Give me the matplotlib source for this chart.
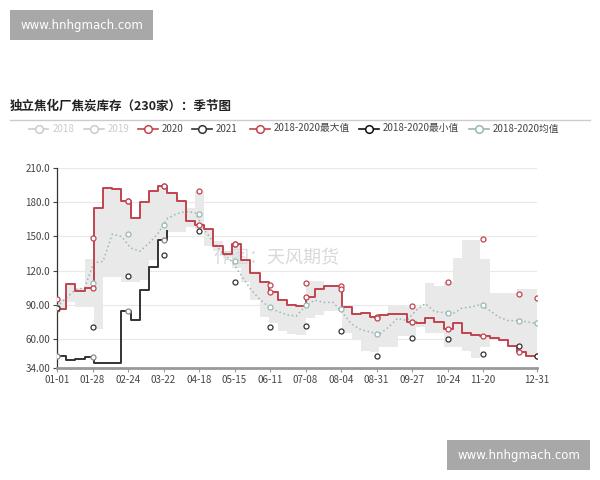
import numpy as np
import matplotlib
matplotlib.use("Agg")
import matplotlib.pyplot as plt
from matplotlib.lines import Line2D
from matplotlib.patches import Rectangle

plt.rcParams['font.family'] = ['Noto Sans CJK SC', 'DejaVu Sans']

# ---------------- data ----------------
title = "独立焦化厂焦炭库存（230家）：季节图"
legend_labels = ["2018", "2019", "2020", "2021", "2018-2020最大值", "2018-2020最小值", "2018-2020均值"]

week_days = list(range(0, 365, 7))  # 53 weekly points (day of year, 0 = 01-01)

s2020 = [86, 108, 102, 105, 175, 193, 192, 181, 166, 180, 190, 194, 188, 181, 164, 160, 157, 142,
         135, 143, 129, 118, 110, 101, 94, 90, 89, 97, 104, 106, 106, 88, 82, 83, 79, 81, 82, 82,
         75, 73.5, 78.5, 75, 69, 73.5, 65, 63, 62.5, 61, 59, 54, 48.5, 45, 45]

s2021 = [44.5, 41.5, 42, 44, 39, 39, 39, 84, 76.5, 103, 123, 147, 155]

band_hi = [95, 109, 105, 130, 175, 193, 192, 181, 166, 180, 190, 194, 188, 181, 175, 190, 157, 146,
           136, 143, 129, 118, 110, 101, 94, 90, 90, 111, 111, 106, 106, 88, 82, 83, 80, 81, 90, 90,
           88, 88, 109, 106, 110, 131, 147, 147, 130, 100, 100, 100, 104, 104, 104]

band_lo = [85, 92, 88, 88, 69, 114, 114, 110, 110, 112, 129, 147, 154, 154, 158, 157, 142, 137,
           131, 122, 110, 94, 79, 74, 67, 64, 63, 78, 81, 84, 84, 65, 60, 49, 48, 53, 53, 62,
           62, 70, 65, 65, 53, 53, 49, 43, 53, 61, 59, 54, 48.5, 45, 45]

mean_vals = [88, 96, 103, 105, 127, 128, 152, 150, 140, 137, 144, 153, 166, 170, 172, 171, 156, 145,
             135, 128, 116, 104, 95, 88, 84, 81, 80, 89, 94, 92, 92, 83, 73, 68, 66, 64, 70, 78,
             76, 85, 91, 84, 83, 82, 87, 88, 90, 85, 79, 76, 76, 75, 73.5]

marker_days = [0, 27, 54, 81, 108, 135, 162, 189, 216, 243, 270, 297, 324, 351, 365]
max_marks = [95, 149, 181.5, 194, 190, 143, 107, 109, 104, 78.5, 89, 110, 148, 99.5, 95.5]
min_marks = [87, 70.5, 115.5, 134, 155, 110, 70.5, 71.5, 67, 45, 61, 59.5, 46.5, 54, 45]
mean_marks = [88, 109, 152, 160, 170, 128, 88, 90, 86, 64, 75, 82.5, 90, 76, 73.5]

xtick_days = [0, 27, 54, 81, 108, 135, 162, 189, 216, 243, 270, 297, 324, 365]
xtick_labels = ["01-01", "01-28", "02-24", "03-22", "04-18", "05-15", "06-11", "07-08",
                "08-04", "08-31", "09-27", "10-24", "11-20", "12-31"]
ytick_vals = [34, 60, 90, 120, 150, 180, 210]
ytick_labels = ["34.00", "60.00", "90.00", "120.0", "150.0", "180.0", "210.0"]

# ---------------- style ----------------
RED = '#c0444f'
DARK = '#333333'
TEAL = '#98b8b4'
BAND = '#e9e9e9'
LIGHT = '#cccccc'

W, H = 600, 480
fig = plt.figure(figsize=(6, 4.8), dpi=100)
fig.patch.set_facecolor('white')

def fx(px):
    return px / W

def fy(py):
    return 1 - py / H

ax = fig.add_axes([fx(57), fy(368.3), fx(537) - fx(57), fy(168.3) - fy(368.3)])

wd = np.array(week_days, dtype=float)
x_full = np.append(wd, 365)

def ext(v):
    v = np.asarray(v, dtype=float)
    return np.append(v, v[-1])

MS = 3.6
MEW = 0.9

# band
ax.fill_between(x_full, ext(band_lo), ext(band_hi), step='post', color=BAND, lw=0, zorder=1)

# mean dotted line
ax.plot(x_full, ext(mean_vals), color=TEAL, lw=1.1, ls=(0, (1.0, 1.8)), zorder=3)
ax.plot(marker_days, mean_marks, ls='none', marker='o', ms=MS, mfc='white', mec=TEAL, mew=MEW, zorder=6)

# 2020 step line
ax.step(x_full, ext(s2020), where='post', color=RED, lw=1.4, zorder=4)
idx = np.searchsorted(wd, marker_days, side='right') - 1
v2020 = np.asarray(s2020)[idx]
ax.plot(marker_days, v2020, ls='none', marker='o', ms=MS, mfc='white', mec=RED, mew=MEW, zorder=6)

# 2021 step line
d21 = np.array(week_days[:len(s2021)], dtype=float)
ax.step(d21, s2021, where='post', color=DARK, lw=1.4, zorder=4)
m21 = [d for d in marker_days if d <= d21[-1]]
i21 = np.searchsorted(d21, m21, side='right') - 1
ax.plot(m21, np.asarray(s2021)[i21], ls='none', marker='o', ms=MS, mfc='white', mec='#888888', mew=MEW, zorder=6)

# max / min markers
ax.plot(marker_days, max_marks, ls='none', marker='o', ms=MS, mfc='white', mec=RED, mew=MEW, zorder=7)
ax.plot(marker_days, min_marks, ls='none', marker='o', ms=MS, mfc='white', mec=DARK, mew=MEW, zorder=7)

ax.set_xlim(0, 365)
ax.set_ylim(34, 210)
ax.set_yticks(ytick_vals)
ax.set_yticklabels(ytick_labels)
ax.set_xticks(xtick_days)
ax.set_xticklabels(xtick_labels)
ax.tick_params(axis='both', labelsize=7, colors='#444444', length=3, width=0.8)
ax.tick_params(axis='x', color='#999999', pad=2)
ax.tick_params(axis='y', pad=2)
ax.yaxis.grid(True, color='#e8e8e8', lw=0.8, zorder=0)
ax.set_axisbelow(True)
for s in ['top', 'right']:
    ax.spines[s].set_visible(False)
ax.spines['left'].set_color('#333333')
ax.spines['left'].set_linewidth(0.9)
ax.spines['bottom'].set_color('#999999')
ax.spines['bottom'].set_linewidth(2)

# watermark
ax.text((276 - 57) / 480, 0.55, "作图：天风期货", transform=ax.transAxes, fontsize=13, color='#d9d9d9',
        ha='center', va='center', zorder=2)

# title
fig.text(fx(10), fy(106), title, fontsize=9, fontweight='bold', color='#222222', ha='left', va='center')
fig.add_artist(Line2D([fx(10), fx(590)], [fy(120), fy(120)], color='#cccccc', lw=1))

# legend
leg_icon_x = [38.5, 94, 148, 202, 260, 369, 479]
leg_colors = [LIGHT, LIGHT, RED, DARK, RED, '#111111', TEAL]
leg_text_colors = [LIGHT, LIGHT, '#444444', '#444444', '#444444', '#444444', '#444444']
ly = 128.5
for cx, lab, c, tc in zip(leg_icon_x, legend_labels, leg_colors, leg_text_colors):
    fig.add_artist(Line2D([fx(cx - 10), fx(cx + 10)], [fy(ly), fy(ly)], color=c, lw=1.2))
    fig.add_artist(Line2D([fx(cx)], [fy(ly)], marker='o', ms=5.5, mfc='white', mec=c, mew=1.1, ls='none'))
    fig.text(fx(cx + 14), fy(ly), lab, fontsize=7, color=tc, ha='left', va='center')

# site boxes
for (x0, y0) in [(10, 10), (447, 440)]:
    fig.add_artist(Rectangle((fx(x0), fy(y0 + 30)), fx(143), 30 / H, transform=fig.transFigure,
                             facecolor='#a8a8a8', edgecolor='none'))
    fig.text(fx(x0 + 71.5), fy(y0 + 15), "www.hnhgmach.com", fontsize=8.5, color='white',
             ha='center', va='center', family='DejaVu Sans')

fig.savefig("out.png", dpi=100, facecolor='white')
